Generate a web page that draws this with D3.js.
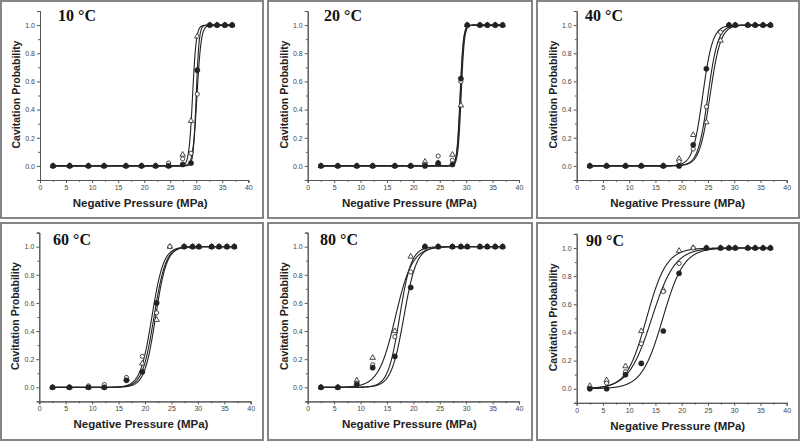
<!DOCTYPE html>
<html><head><meta charset="utf-8">
<script src="https://cdn.jsdelivr.net/npm/d3@7/dist/d3.min.js"></script>
<style>body{margin:0;background:#fff}svg{display:block}</style>
</head><body>
<svg id="c" width="800" height="441"></svg>
<script>
// ---- data ----
const pressure = [2.5, 5.7, 9.3, 12.3, 16.5, 19.5, 22.2, 24.7, 27.4, 29.0, 30.2, 32.6, 34.0, 35.5, 36.9];
const temps = ["10 °C", "20 °C", "40 °C", "60 °C", "80 °C", "90 °C"];
// series A: filled circles (null = not measured)
const seriesA = [
  [0,0,0,0,0,0,0,0,0.01,0.02,0.68,1,1,1,1],
  [0,0,0,0,0,0,0,0.02,0.01,0.62,1,1,1,1,1],
  [0,0,0,0,0,0,0.15,0.69,null,1,1,1,1,1,1],
  [0,0,0,0,0.05,0.11,0.60,null,1,1,1,1,1,1,1],
  [0,0,0.02,0.14,0.22,0.71,1,1,1,1,1,1,1,1,1],
  [0,0,0.10,0.18,0.41,0.82,null,1,1,1,1,1,1,1,1]
];
// series B: open circles
const seriesB = [
  [0,0,0,0,0,0,0,0.02,0.05,0.09,0.51,1,1,1,1],
  [0,0,0,0,0,0,0.01,0.07,0.04,0.60,1,1,1,1,1],
  [0,0,0,0,0,0.03,0.12,0.42,0.95,1,1,1,1,1,1],
  [0,0,0.01,0.02,0.07,0.22,0.53,1,1,1,1,1,1,1,1],
  [0,0,0.03,0.16,0.36,0.82,1,1,1,1,1,1,1,1,1],
  [0,0.04,0.12,0.32,0.69,0.89,1,1,1,1,1,1,1,1,1]
];
// series C: open triangles
const seriesC = [
  [0,0,0,0,0,0,0,0,0.08,0.32,0.92,1,1,1,1],
  [0,0,0,0,0,0,0.03,0.02,0.08,0.43,1,1,1,1,1],
  [0,0,0,0,0,0.05,0.22,0.31,0.89,1,1,1,1,1,1],
  [0,0,0,0,0.06,0.17,0.48,1,1,1,1,1,1,1,1],
  [0,0,0.05,0.21,0.40,0.93,1,1,1,1,1,1,1,1,1],
  [0.02,0.06,0.16,0.41,0.70,0.98,1,1,1,1,1,1,1,1,1]
];
// sigmoid fit parameters [A, B, C] per panel
const fitCenter = [
  [30.0, 30.15, 29.3],
  [28.85, 28.9, 29.05],
  [24.0, 25.0, 25.4],
  [21.3, 21.7, 22.0],
  [18.2, 17.4, 16.6],
  [16.4, 14.3, 13.3]
];
const fitWidth = [
  [0.28, 0.4, 0.35],
  [0.3, 0.3, 0.3],
  [0.95, 0.95, 1.0],
  [1.1, 1.1, 1.05],
  [1.2, 1.1, 1.6],
  [2.0, 2.2, 1.9]
];
const xTicks = [0, 5, 10, 15, 20, 25, 30, 35, 40];
const yTicks = [0.0, 0.2, 0.4, 0.6, 0.8, 1.0];
const xTitle = "Negative Pressure (MPa)";
const yTitle = "Cavitation Probability";

// ---- layout ----
const layout = [
  {box:[1,1,262,217], xr:[40,248.3], yr:[180,11], tx:58, ty:21},
  {box:[268,1,264,217], xr:[307.7,519], yr:[180,11], tx:324, ty:21},
  {box:[537,1,262,217], xr:[576.7,786.7], yr:[180,11], tx:585, ty:21},
  {box:[1,223,262,217], xr:[39.3,250.7], yr:[401.4,232.6], tx:53, ty:245},
  {box:[268,223,264,217], xr:[307.7,519], yr:[401.4,232.6], tx:320, ty:245},
  {box:[537,223,262,217], xr:[576.7,786.7], yr:[402.8,233.9], tx:586, ty:246}
];

const svg = d3.select("#c");
const logistic = (x, c, w) => 1 / (1 + Math.exp(-(x - c) / w));
const font = "Arial, 'Liberation Sans', sans-serif";

layout.forEach((L, i) => {
  const g = svg.append("g");
  g.append("rect").attr("x", L.box[0]).attr("y", L.box[1]).attr("width", L.box[2]).attr("height", L.box[3])
    .attr("fill", "#fff").attr("stroke", "#858585").attr("stroke-width", 2);

  const x = d3.scaleLinear().domain([0, 40]).range(L.xr);
  const y = d3.scaleLinear().domain([-0.1, 1.1]).range(L.yr);

  const xa = g.append("g").attr("transform", `translate(0,${L.yr[0]})`)
    .call(d3.axisBottom(x).tickValues(xTicks).tickSize(3).tickPadding(2).tickFormat(d3.format("d")));
  xa.append("g").call(d3.axisBottom(x).tickValues(d3.range(2.5, 40, 5)).tickSize(1.8).tickFormat(""));
  const ya = g.append("g").attr("transform", `translate(${L.xr[0]},0)`)
    .call(d3.axisLeft(y).tickValues(yTicks).tickSize(3).tickPadding(2).tickFormat(d3.format(".1f")));
  ya.append("g").call(d3.axisLeft(y).tickValues([-0.1,0.1,0.3,0.5,0.7,0.9,1.1]).tickSize(1.8).tickFormat(""));
  g.selectAll(".domain").attr("stroke", "#555").attr("stroke-width", 1);
  g.selectAll(".tick line").attr("stroke", "#555");
  g.selectAll(".tick text").attr("font-family", font).attr("font-size", 7).attr("fill", "#444");

  g.append("text").attr("x", (L.xr[0] + L.xr[1]) / 2 - 4).attr("y", L.yr[0] + 27)
    .attr("text-anchor", "middle").attr("font-family", font)
    .attr("font-weight", "bold").attr("font-size", 11.5).attr("fill", "#222").text(xTitle);
  g.append("text").attr("transform", `translate(${L.xr[0] - 20},${(L.yr[0] + L.yr[1]) / 2 - 1}) rotate(-90)`)
    .attr("text-anchor", "middle").attr("font-family", font)
    .attr("font-weight", "bold").attr("font-size", 10.5).attr("fill", "#222").text(yTitle);
  g.append("text").attr("x", L.tx).attr("y", L.ty)
    .attr("font-family", "'Liberation Serif', 'Times New Roman', serif")
    .attr("font-weight", "bold").attr("font-size", 16).attr("fill", "#111").text(temps[i]);

  const line = d3.line().x(d => x(d[0])).y(d => y(d[1]));
  const xs = d3.range(2.5, 37.0001, 0.05);
  [0, 1, 2].forEach(s => {
    const pts = xs.map(v => [v, logistic(v, fitCenter[i][s], fitWidth[i][s])]);
    g.append("path").attr("d", line(pts)).attr("fill", "none").attr("stroke", "#222").attr("stroke-width", 1.1);
  });

  const pairs = arr => arr.map((v, k) => [pressure[k], v]).filter(d => d[1] !== null);
  const tri = d3.symbol().type(d3.symbolTriangle).size(13);
  g.selectAll(null).data(pairs(seriesC[i])).enter().append("path")
    .attr("d", tri).attr("transform", d => `translate(${x(d[0])},${y(d[1])})`)
    .attr("fill", "#fff").attr("stroke", "#333").attr("stroke-width", 0.9);
  g.selectAll(null).data(pairs(seriesB[i])).enter().append("circle")
    .attr("cx", d => x(d[0])).attr("cy", d => y(d[1])).attr("r", 2.1)
    .attr("fill", "#fff").attr("stroke", "#333").attr("stroke-width", 0.9);
  g.selectAll(null).data(pairs(seriesA[i])).enter().append("circle")
    .attr("cx", d => x(d[0])).attr("cy", d => y(d[1])).attr("r", 2.6)
    .attr("fill", "#222").attr("stroke", "#222").attr("stroke-width", 0.5);
});
</script>
</body></html>
